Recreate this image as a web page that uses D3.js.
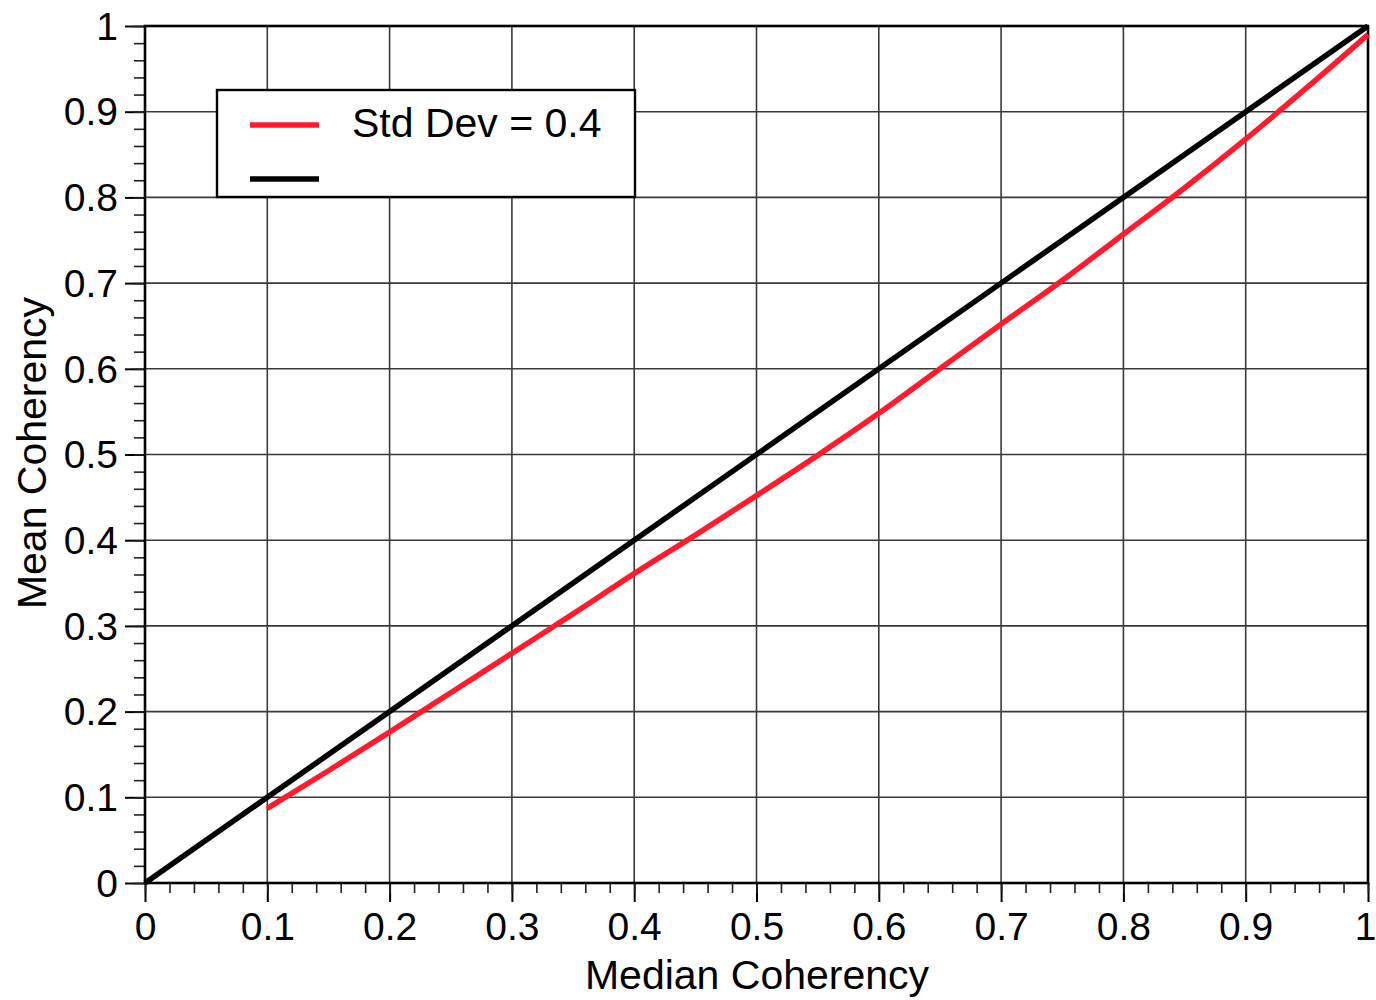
<!DOCTYPE html>
<html>
<head>
<meta charset="utf-8">
<script src="https://cdn.jsdelivr.net/npm/d3@7"></script>
<style>
  html, body { margin: 0; padding: 0; background: #fff; }
  svg { display: block; }
  text { font-family: "Liberation Sans", Arial, Helvetica, sans-serif; fill: #000; }
</style>
</head>
<body>
<svg id="chart" width="1376" height="1000"></svg>
<script>
// Median coherency (x) and mean coherency (y) for a log-normal spread, Std Dev = 0.4
const medianVals = [0.10, 0.15, 0.20, 0.25, 0.30, 0.35, 0.40, 0.45, 0.50, 0.55,
                    0.60, 0.65, 0.70, 0.75, 0.80, 0.85, 0.90, 0.95, 1.00];
const meanVals   = [0.087, 0.131, 0.176, 0.222, 0.268, 0.314, 0.361, 0.406, 0.452, 0.499,
                    0.548, 0.600, 0.652, 0.703, 0.757, 0.811, 0.868, 0.928, 0.990];
// Reference line: mean equals median
const identityX = [0, 1];
const identityY = [0, 1];

const xTicks = [0, 0.1, 0.2, 0.3, 0.4, 0.5, 0.6, 0.7, 0.8, 0.9, 1];
const yTicks = [0, 0.1, 0.2, 0.3, 0.4, 0.5, 0.6, 0.7, 0.8, 0.9, 1];
const minorTicks = d3.range(0, 1.0001, 0.02);
const legendLabels = ["Std Dev = 0.4", ""];
const xTitle = "Median Coherency";
const yTitle = "Mean Coherency";

const svg = d3.select("#chart");
const m = { left: 145, right: 1368, top: 26, bottom: 883 };

const x = d3.scaleLinear().domain([0, 1]).range([m.left, m.right]);
const y = d3.scaleLinear().domain([0, 1]).range([m.bottom, m.top]);
const fmt = d => d === 0 ? "0" : d === 1 ? "1" : d3.format(".1f")(d);

// grid
const grid = svg.append("g");
grid.selectAll("line.gx").data(xTicks.slice(1, -1)).join("line")
  .attr("x1", d => x(d)).attr("x2", d => x(d))
  .attr("y1", m.top).attr("y2", m.bottom)
  .attr("stroke", "#3a3a3a").attr("stroke-width", 1.6);
grid.selectAll("line.gy").data(yTicks.slice(1, -1)).join("line")
  .attr("y1", d => y(d)).attr("y2", d => y(d))
  .attr("x1", m.left).attr("x2", m.right)
  .attr("stroke", "#3a3a3a").attr("stroke-width", 1.6);

// axes
const xAxis = svg.append("g").attr("transform", `translate(0,${m.bottom})`)
  .call(d3.axisBottom(x).tickValues(xTicks).tickFormat(fmt).tickSize(19).tickPadding(10));
const xMinor = svg.append("g").attr("transform", `translate(0,${m.bottom})`)
  .call(d3.axisBottom(x).tickValues(minorTicks).tickFormat("").tickSize(10));
const yAxis = svg.append("g").attr("transform", `translate(${m.left},0)`)
  .call(d3.axisLeft(y).tickValues(yTicks).tickFormat(fmt).tickSize(20).tickPadding(7));
const yMinor = svg.append("g").attr("transform", `translate(${m.left},0)`)
  .call(d3.axisLeft(y).tickValues(minorTicks).tickFormat("").tickSize(11));

[xAxis, xMinor, yAxis, yMinor].forEach(g => {
  g.select(".domain").remove();
  g.selectAll(".tick line").attr("stroke", "#222").attr("stroke-width", 1.6);
});
xAxis.selectAll(".tick line").attr("stroke", "#000").attr("stroke-width", 2);
yAxis.selectAll(".tick line").attr("stroke", "#000").attr("stroke-width", 2);
xAxis.selectAll("text").attr("font-size", 39).attr("fill", "#000");
xAxis.selectAll(".tick text").filter(d => d === 1).attr("dx", -3);
yAxis.selectAll("text").attr("font-size", 39).attr("fill", "#000").attr("dy", "0.34em");

// frame
svg.append("rect")
  .attr("x", m.left).attr("y", m.top)
  .attr("width", m.right - m.left).attr("height", m.bottom - m.top)
  .attr("fill", "none").attr("stroke", "#000").attr("stroke-width", 2.6);

// data lines
const line = d3.line().x(d => x(d[0])).y(d => y(d[1]));
svg.append("path")
  .datum(identityX.map((v, i) => [v, identityY[i]]))
  .attr("d", line).attr("fill", "none")
  .attr("stroke", "#000").attr("stroke-width", 5.5);
svg.append("path")
  .datum(medianVals.map((v, i) => [v, meanVals[i]]))
  .attr("d", line.curve(d3.curveMonotoneX)).attr("fill", "none")
  .attr("stroke", "#ff1a2e").attr("stroke-width", 5.5);

// axis titles
svg.append("text").attr("x", 757).attr("y", 989)
  .attr("text-anchor", "middle").attr("font-size", 41).text(xTitle);
svg.append("text")
  .attr("transform", `translate(46,453) rotate(-90)`)
  .attr("text-anchor", "middle").attr("font-size", 41).text(yTitle);

// legend
const lg = svg.append("g");
lg.append("rect").attr("x", 217).attr("y", 90).attr("width", 418).attr("height", 107)
  .attr("fill", "#fff").attr("stroke", "#000").attr("stroke-width", 2.4);
const legendColors = ["#ff1a2e", "#000"];
const legendY = [125, 179];
legendLabels.forEach((lab, i) => {
  lg.append("line").attr("x1", 250).attr("x2", 319)
    .attr("y1", legendY[i]).attr("y2", legendY[i])
    .attr("stroke", legendColors[i]).attr("stroke-width", 5.5);
  if (lab) lg.append("text").attr("x", 352).attr("y", legendY[i] + 12)
    .attr("font-size", 41).text(lab);
});
</script>
</body>
</html>
